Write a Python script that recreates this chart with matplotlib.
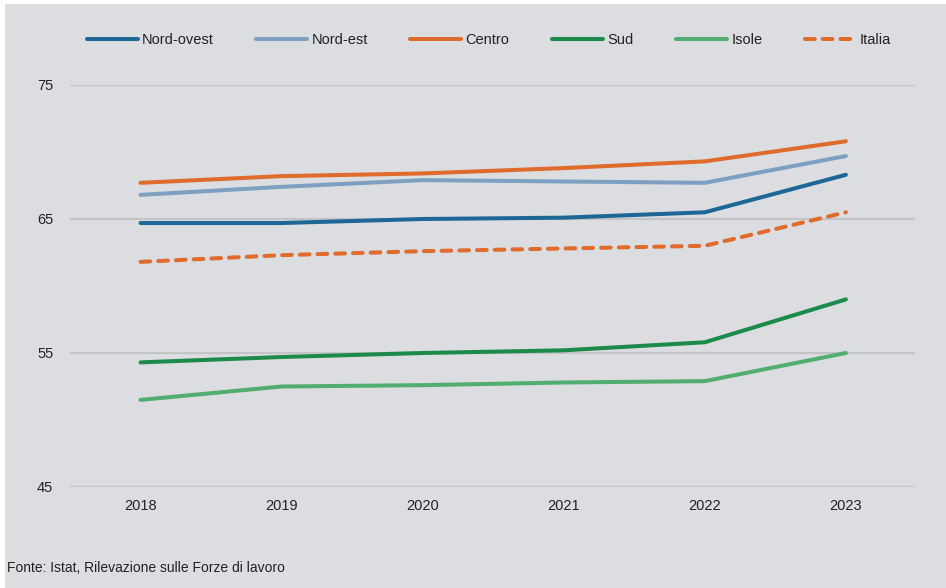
import matplotlib
matplotlib.use("Agg")
import matplotlib.pyplot as plt
from matplotlib.patches import Rectangle
from matplotlib import font_manager

# Employment rate by territorial area, 2018-2023
years = [2018, 2019, 2020, 2021, 2022, 2023]
nord_ovest = [64.7, 64.7, 65.0, 65.1, 65.5, 68.3]
nord_est = [66.8, 67.4, 67.9, 67.8, 67.7, 69.7]
centro = [67.7, 68.2, 68.4, 68.8, 69.3, 70.8]
sud = [54.3, 54.7, 55.0, 55.2, 55.8, 59.0]
isole = [51.5, 52.5, 52.6, 52.8, 52.9, 55.0]
italia = [61.8, 62.3, 62.6, 62.8, 63.0, 65.5]

series_names = ["Nord-ovest", "Nord-est", "Centro", "Sud", "Isole", "Italia"]
series_values = [nord_ovest, nord_est, centro, sud, isole, italia]
series_colors = ["#1d6796", "#7d9fc1", "#df6b2d", "#1c8a4a", "#52ad70", "#df6b2d"]
yticks = [45, 55, 65, 75]
source_note = "Fonte: Istat, Rilevazione sulle Forze di lavoro"

available = {f.name for f in font_manager.fontManager.ttflist}
narrow = "Liberation Sans Narrow" if "Liberation Sans Narrow" in available else "Liberation Sans"
plt.rcParams["font.family"] = [narrow, "DejaVu Sans"]

bg = "#dcdde0"
fig = plt.figure(figsize=(9.46, 5.88), dpi=100, facecolor="white")
fig.patches.append(Rectangle((5 / 946, 0), 1 - 5 / 946, 1 - 4 / 588,
                             transform=fig.transFigure, facecolor=bg,
                             edgecolor="none", zorder=-10))

ax = fig.add_axes([70 / 946, 101 / 588, 845 / 946, 402 / 588])
ax.set_facecolor("none")
ax.set_zorder(1)

lw = 2.9
handles = []
for name, vals, col in zip(series_names, series_values, series_colors):
    if name == "Italia":
        ln, = ax.plot(years, vals, color=col, lw=lw, label=name,
                      dash_capstyle="round", solid_capstyle="round")
        ln.set_dashes((2.4, 2.0))
    else:
        ln, = ax.plot(years, vals, color=col, lw=lw, label=name,
                      solid_capstyle="round", solid_joinstyle="round")
    handles.append(ln)

ax.set_xlim(2017.5, 2023.49)
ax.set_ylim(45, 75)
ax.set_yticks(yticks)
ax.set_xticks(years)
ax.yaxis.grid(True, color="#c3c4c6", lw=1.6)
ax.set_axisbelow(True)
for s in ax.spines.values():
    s.set_visible(False)
ax.tick_params(axis="both", length=0, labelsize=10.5, colors="#222222")
ax.tick_params(axis="y", pad=12)
ax.tick_params(axis="x", pad=9)

leg = fig.legend(handles=handles, labels=series_names, loc="center",
                 bbox_to_anchor=(489 / 946, 1 - 40 / 588), ncol=6,
                 frameon=False, fontsize=10.5, handlelength=3.5,
                 handletextpad=0.3, columnspacing=2.9, labelcolor="#222222")

fig.text(7 / 946, 1 - 568 / 588, source_note, fontsize=10,
         color="#222222", va="center", ha="left")

fig.savefig("out.png", dpi=100, facecolor="white")
